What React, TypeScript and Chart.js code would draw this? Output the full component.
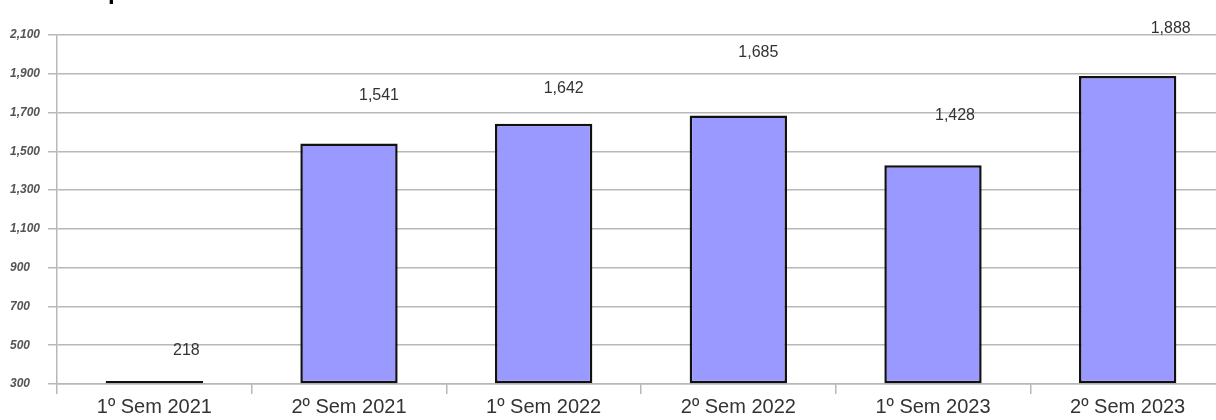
import React, { useEffect, useRef } from "react";
import { Chart, registerables } from "chart.js";

Chart.register(...registerables);

const CATEGORIES = ["1º Sem 2021", "2º Sem 2021", "1º Sem 2022", "2º Sem 2022", "1º Sem 2023", "2º Sem 2023"];
const VALUES = [218, 1541, 1642, 1685, 1428, 1888];
const Y_MIN = 300;
const Y_MAX = 2100;
const Y_STEP = 200;
// offsets (px) of each value label from its bar's top-centre, as placed in the source
const LABEL_LIFT = [30, 48, 35, 63, 50, 48];
const LABEL_SHIFT = [32, 30, 20, 20, 22, 43];

const GRID = "#b8b8b8";
const FONT = "'Liberation Sans', Arial, sans-serif";

const valueLabels = {
  id: "valueLabels",
  afterDatasetsDraw(chart: any) {
    const ctx = chart.ctx;
    const meta = chart.getDatasetMeta(0);
    ctx.save();
    ctx.font = `16px ${FONT}`;
    ctx.fillStyle = "#333";
    ctx.textAlign = "center";
    ctx.textBaseline = "middle";
    meta.data.forEach((bar: any, i: number) => {
      const top = Math.max(Math.min(bar.y, bar.base), chart.chartArea.top);
      ctx.fillText(VALUES[i].toLocaleString("en-US"), bar.x + LABEL_SHIFT[i], Math.min(top, chart.chartArea.bottom) - LABEL_LIFT[i]);
    });
    // cut-off title descender at the very top
    ctx.font = `bold 24px ${FONT}`;
    ctx.fillStyle = "#000";
    ctx.textAlign = "left";
    ctx.textBaseline = "alphabetic";
    ctx.fillText("p", 108, -1);
    ctx.restore();
  },
};

export default function App() {
  const ref = useRef<HTMLCanvasElement | null>(null);
  useEffect(() => {
    if (!ref.current) return;
    const chart = new Chart(ref.current, {
      type: "bar",
      data: {
        labels: CATEGORIES,
        datasets: [
          {
            data: VALUES.map((v) => Math.max(v, Y_MIN)),
            base: Y_MIN,
            backgroundColor: "#9999ff",
            borderColor: "#111",
            borderWidth: 2.5,
            borderSkipped: false,
            minBarLength: 3,
            barPercentage: 0.5,
            categoryPercentage: 1,
          },
        ],
      },
      options: {
        responsive: false,
        animation: false,
        layout: { padding: { left: 10, top: 35, right: 15, bottom: 0 } },
        plugins: { legend: { display: false }, tooltip: { enabled: false }, title: { display: false } },
        scales: {
          x: {
            offset: true,
            afterFit: (s: any) => {
              s.height = 36;
            },
            grid: {
              offset: true,
              drawOnChartArea: false,
              drawTicks: true,
              tickLength: 10,
              color: GRID,
              lineWidth: 1.5,
            },
            border: { display: true, color: GRID, width: 1.5 },
            ticks: {
              padding: 1,
              color: "#333",
              font: { family: FONT, size: 20 },
            },
          },
          y: {
            min: Y_MIN,
            max: Y_MAX,
            afterFit: (s: any) => {
              s.width = 47;
            },
            grid: { color: GRID, tickLength: 9, lineWidth: 1.5 },
            border: { display: true, color: GRID, width: 1.5 },
            ticks: {
              stepSize: Y_STEP,
              crossAlign: "far",
              padding: 3,
              color: "#555",
              font: { family: FONT, size: 12, style: "italic", weight: "bold" },
              callback: (v: any) => Number(v).toLocaleString("en-US"),
            },
          },
        },
      },
      plugins: [valueLabels],
    });
    return () => chart.destroy();
  }, []);
  return (
    <div style={{ position: "fixed", left: 0, top: 0, width: 1216, height: 420, overflow: "hidden", background: "#fff" }}>
      <canvas ref={ref} width={1240} height={420} style={{ display: "block" }} />
    </div>
  );
}
